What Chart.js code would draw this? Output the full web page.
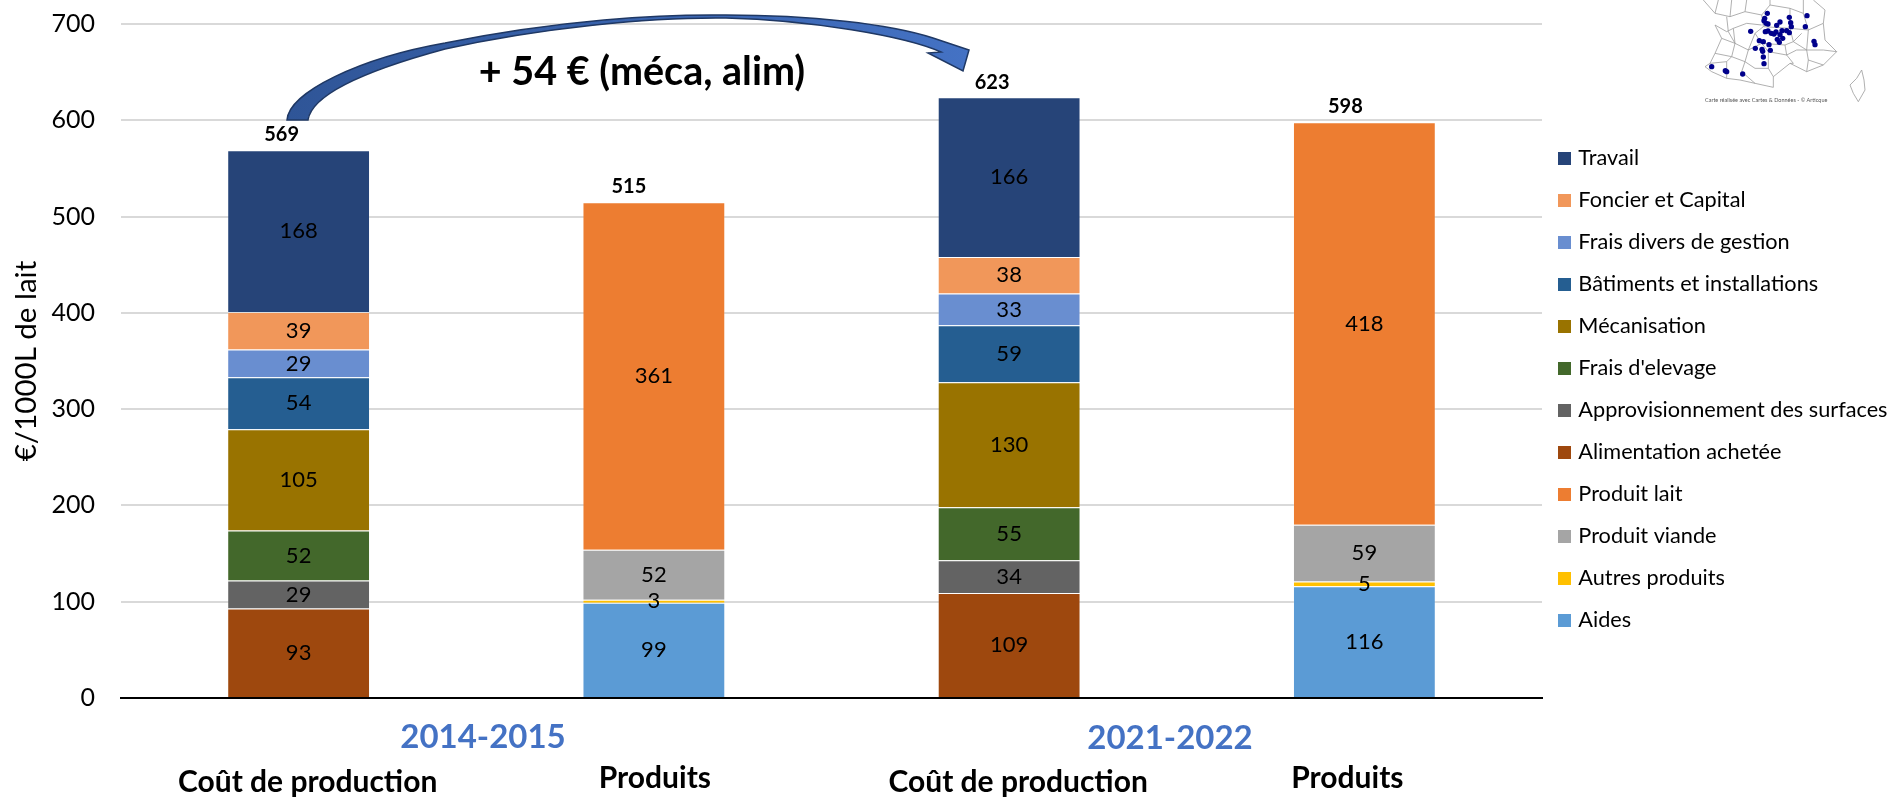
<!DOCTYPE html>
<html lang="fr">
<head>
<meta charset="utf-8">
<title>Coût de production et produits</title>
<script src="https://cdn.jsdelivr.net/npm/chart.js@4/dist/chart.umd.min.js"></script>
<style>
  html, body { margin: 0; padding: 0; background: #fff; overflow: hidden; }
  canvas { display: block; }
</style>
</head>
<body>
<canvas id="myChart" width="1890" height="799"></canvas>
<script>
'use strict';

// Data
const categories = ['Coût de production', 'Produits', 'Coût de production', 'Produits'];
const periods = ['2014-2015', '2021-2022'];
const totals = [569, 515, 623, 598];

const aides = [null, 99, null, 116];
const autresProduits = [null, 3, null, 5];
const produitViande = [null, 52, null, 59];
const produitLait = [null, 361, null, 418];
const alimentation = [93, null, 109, null];
const approvisionnement = [29, null, 34, null];
const fraisElevage = [52, null, 55, null];
const mecanisation = [105, null, 130, null];
const batiments = [54, null, 59, null];
const fraisDivers = [29, null, 33, null];
const foncier = [39, null, 38, null];
const travail = [168, null, 166, null];

const FONT = 'Lato, "Open Sans", sans-serif';

function serie(label, data, color) {
  return {
    label: label,
    data: data,
    backgroundColor: color,
    borderColor: 'rgba(255,255,255,0.15)',
    borderWidth: 1,
    stack: 'total'
  };
}

// Value inside each bar segment, total above each stack
const valueLabels = {
  id: 'valueLabels',
  afterDatasetsDraw(chart) {
    const ctx = chart.ctx;
    ctx.save();
    ctx.textAlign = 'center';
    ctx.textBaseline = 'middle';
    ctx.fillStyle = '#000';
    ctx.font = '22px ' + FONT;
    chart.data.datasets.forEach((ds, d) => {
      chart.getDatasetMeta(d).data.forEach((bar, i) => {
        if (ds.data[i] === null) return;
        ctx.fillText(ds.data[i], bar.x, (bar.y + bar.base) / 2);
      });
    });
    // the totals sit a little left of the bars, like the text boxes of the original
    const totalShift = [-17, -25, -17, -19];
    ctx.font = 'bold 20px ' + FONT;
    const y = chart.scales.y, x = chart.scales.x;
    totals.forEach((t, i) => {
      ctx.fillText(t, x.getPixelForTick(i) + totalShift[i], y.getPixelForValue(t) - 16);
    });
    ctx.restore();
  }
};

// Category and period names under the axis
const axisLabels = {
  id: 'axisLabels',
  afterDraw(chart) {
    const ctx = chart.ctx;
    const x = chart.scales.x;
    const labelShift = [9, 1, 9, -17];
    const labelY = [782, 778, 782, 778];
    ctx.save();
    ctx.textAlign = 'center';
    ctx.textBaseline = 'middle';
    ctx.fillStyle = '#000';
    ctx.font = 'bold 30px ' + FONT;
    categories.forEach((c, i) => {
      ctx.fillText(c, x.getPixelForTick(i) + labelShift[i], labelY[i]);
    });
    ctx.fillStyle = '#4472C4';
    ctx.font = 'bold 33px ' + FONT;
    ctx.fillText(periods[0], 483, 737);
    ctx.fillText(periods[1], 1170, 738);
    ctx.restore();
  }
};

// Curved arrow and its caption
const arrowNote = {
  id: 'arrowNote',
  afterDraw(chart) {
    const ctx = chart.ctx;
    ctx.save();
    ctx.beginPath();
    ctx.moveTo(287, 120);
    ctx.bezierCurveTo(289, 92, 360, 58, 445, 43);
    ctx.bezierCurveTo(560, 20, 660, 14, 726, 15);
    ctx.bezierCurveTo(810, 15, 890, 24, 933, 38);
    ctx.lineTo(969, 50);
    ctx.lineTo(963, 71);
    ctx.lineTo(928, 53);
    ctx.lineTo(941, 52);
    ctx.bezierCurveTo(905, 36, 810, 20, 726, 18);
    ctx.bezierCurveTo(650, 17, 540, 28, 445, 49);
    ctx.bezierCurveTo(375, 68, 312, 92, 308, 120);
    ctx.closePath();
    const grad = ctx.createLinearGradient(287, 0, 969, 0);
    grad.addColorStop(0, '#2F5597');
    grad.addColorStop(1, '#4472C4');
    ctx.fillStyle = grad;
    ctx.fill();
    ctx.strokeStyle = '#1F3864';
    ctx.lineWidth = 1.5;
    ctx.stroke();
    ctx.fillStyle = '#000';
    ctx.textAlign = 'center';
    ctx.textBaseline = 'middle';
    ctx.font = 'bold 39.5px ' + FONT;
    ctx.fillText('+ 54 € (méca, alim)', 642, 72);
    ctx.restore();
  }
};

// Small inset map, top right
const mapOutlines = [
  [[40,0],[75,40],[120,50],[165,35],[215,45],[220,80],[195,100],[175,150],[135,130],[115,95],[110,50]],
  [[75,75],[110,95],[130,85],[170,70],[215,75]],
  [[75,75],[95,115],[75,160],[60,190],[45,200],[65,215],[110,235],[150,240],[195,250],[250,262],[250,230],[300,190],[350,215],[400,195],[440,155],[405,120],[400,70],[405,30],[370,0]],
  [[95,115],[135,130],[125,170],[165,185],[155,215],[195,250]],
  [[75,160],[125,170]],
  [[60,190],[110,185],[110,235]],
  [[165,185],[195,205],[235,205],[250,230]],
  [[175,150],[165,185]],
  [[175,150],[215,130],[235,155],[235,205]],
  [[195,100],[215,130],[285,135],[290,165],[235,155]],
  [[220,80],[300,85],[310,125],[285,135]],
  [[215,45],[240,15],[300,25],[300,85]],
  [[290,165],[310,190],[300,190]],
  [[310,125],[350,150],[355,180],[350,215]],
  [[300,85],[355,90],[350,150],[400,150],[440,155]],
  [[300,25],[340,40],[355,90],[400,70]],
  [[340,40],[340,0]],
  [[355,180],[400,195]],
  [[125,0],[120,50]],
  [[240,0],[240,15]],
  [[170,0],[165,35]],
  [[130,85],[135,130]],
  [[85,0],[75,40]],
  [[310,125],[335,100]],
  [[290,165],[320,150],[350,150]],
  [[125,170],[110,185]],
  [[515,210],[522,240],[525,270],[505,305],[490,280],[480,255],[500,235],[515,210]]
];
const mapDots = [
  [232,40],[224,55],[228,70],[234,72],[222,62],[260,76],[270,66],[298,52],[302,68],[304,80],[351,47],[346,80],
  [182,94],[226,95],[234,93],[244,100],[252,102],[258,96],[276,92],[290,92],[298,98],[270,104],[262,118],
  [278,115],[268,127],[208,122],[220,125],[237,134],[196,145],[216,148],[218,154],[241,151],[220,171],
  [222,191],[372,124],[375,134],[65,200],[106,212],[110,215],[158,222]
];

const insetMap = {
  id: 'insetMap',
  afterDraw(chart) {
    const ctx = chart.ctx;
    ctx.save();
    ctx.translate(1690, 0);
    ctx.scale(1 / 3, 1 / 3);
    ctx.filter = 'blur(0.4px)';
    ctx.strokeStyle = '#9C9C9C';
    ctx.lineWidth = 2.4;
    mapOutlines.forEach(line => {
      ctx.beginPath();
      line.forEach((p, i) => (i ? ctx.lineTo(p[0], p[1]) : ctx.moveTo(p[0], p[1])));
      ctx.stroke();
    });
    ctx.fillStyle = '#00008B';
    mapDots.forEach(p => {
      ctx.beginPath();
      ctx.arc(p[0], p[1], 8, 0, Math.PI * 2);
      ctx.fill();
    });
    ctx.restore();
    ctx.save();
    ctx.fillStyle = '#555';
    ctx.font = '5.5px ' + FONT;
    ctx.textBaseline = 'middle';
    ctx.fillText('Carte réalisée avec Cartes & Données - © Articque', 1705, 100);
    ctx.restore();
  }
};

// Moves the legend to where the original has it
const LEGEND_SIZE = 21.7;
const LEGEND_PAD = 42 - LEGEND_SIZE;
const legendPlace = {
  id: 'legendPlace',
  afterLayout(chart) {
    chart.legend.left = 1561.5 - LEGEND_PAD;
    chart.legend.right = chart.legend.left + chart.legend.width;
    chart.legend.top = 158.5 - LEGEND_SIZE / 2 - LEGEND_PAD;
    chart.legend.bottom = chart.legend.top + chart.legend.height;
  }
};

const chart = new Chart(document.getElementById('myChart').getContext('2d'), {
  type: 'bar',
  data: {
    labels: categories,
    datasets: [
      serie('Aides', aides, '#5B9BD5'),
      serie('Autres produits', autresProduits, '#FFC000'),
      serie('Produit viande', produitViande, '#A5A5A5'),
      serie('Produit lait', produitLait, '#ED7D31'),
      serie('Alimentation achetée', alimentation, '#9E480E'),
      serie('Approvisionnement des surfaces', approvisionnement, '#636363'),
      serie("Frais d'elevage", fraisElevage, '#43682B'),
      serie('Mécanisation', mecanisation, '#997300'),
      serie('Bâtiments et installations', batiments, '#255E91'),
      serie('Frais divers de gestion', fraisDivers, '#698ED0'),
      serie('Foncier et Capital', foncier, '#F1975A'),
      serie('Travail', travail, '#264478')
    ]
  },
  options: {
    responsive: false,
    animation: false,
    devicePixelRatio: 1,
    barPercentage: 0.402,
    categoryPercentage: 1,
    layout: { padding: { left: 0, right: 0, top: 24, bottom: 0 } },
    plugins: {
      tooltip: { enabled: false },
      legend: {
        position: 'right',
        align: 'start',
        reverse: true,
        labels: {
          // small box plus a thick outline, so the text can sit closer to the 13px square
          boxWidth: 6,
          boxHeight: 6,
          padding: LEGEND_PAD,
          color: '#000',
          font: { family: FONT, size: LEGEND_SIZE },
          generateLabels(chart) {
            return Chart.defaults.plugins.legend.labels.generateLabels(chart).map(item => {
              item.strokeStyle = item.fillStyle;
              item.lineWidth = 7;
              return item;
            });
          }
        }
      }
    },
    scales: {
      x: {
        stacked: true,
        grid: { display: false },
        border: { color: '#000', width: 2 },
        ticks: { display: false },
        afterFit(scale) { scale.height = 101; }
      },
      y: {
        stacked: true,
        min: 0,
        max: 700,
        grid: { color: '#D9D9D9', lineWidth: 2, drawTicks: false },
        border: { display: false },
        ticks: {
          stepSize: 100,
          padding: 26,
          color: '#000',
          font: { family: FONT, size: 25 }
        },
        title: {
          display: true,
          text: '€/1000L de lait',
          color: '#000',
          padding: { top: 9, bottom: 0 },
          font: { family: FONT, size: 29.5 }
        },
        // tick padding would otherwise push the top of the plot down
        afterFit(scale) {
          scale.width = 121;
          scale.paddingTop = 0;
          scale.paddingBottom = 0;
        }
      }
    }
  },
  plugins: [valueLabels, axisLabels, arrowNote, insetMap, legendPlace]
});

// the plot has to stop at x=1542 whatever width the legend takes
chart.options.layout.padding.right = 1890 - 1542 - chart.legend.width;
chart.update();
</script>
</body>
</html>
